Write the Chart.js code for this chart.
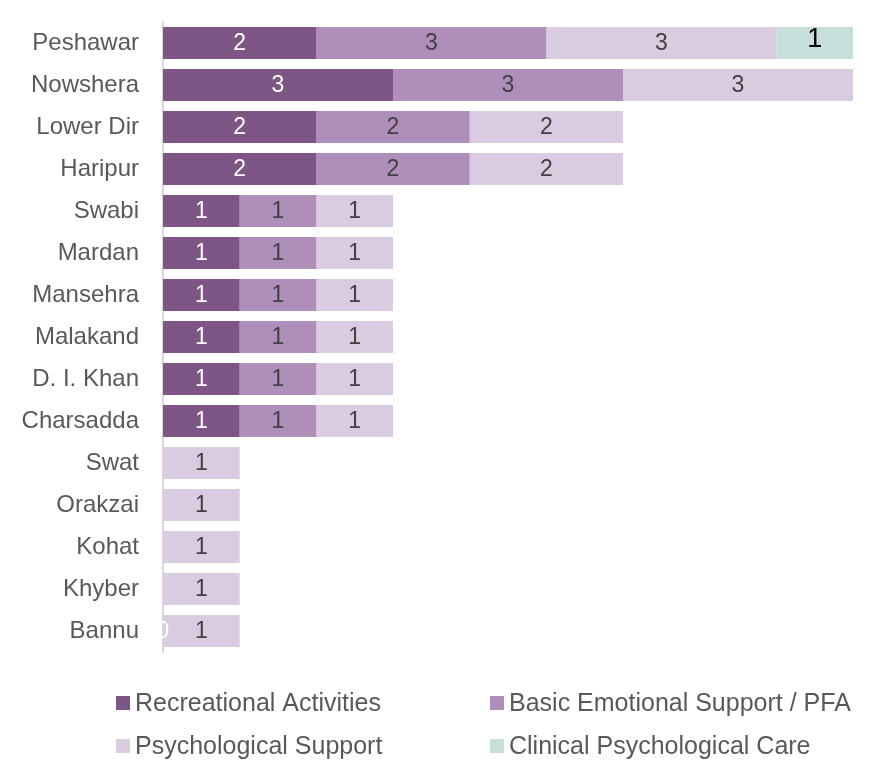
<!DOCTYPE html>
<html>
<head>
<meta charset="utf-8">
<script src="https://cdn.jsdelivr.net/npm/chart.js@4.4.1/dist/chart.umd.min.js"></script>
<style>
    html, body { margin: 0; padding: 0; background: #ffffff; }
    #wrap { position: relative; width: 874px; height: 766px; }
</style>
</head>
<body>
<div id="wrap"><canvas id="chart" width="874" height="766"></canvas></div>
<script>
        const districts = ['Peshawar', 'Nowshera', 'Lower Dir', 'Haripur', 'Swabi', 'Mardan', 'Mansehra',
            'Malakand', 'D. I. Khan', 'Charsadda', 'Swat', 'Orakzai', 'Kohat', 'Khyber', 'Bannu'];

        const recreational = [2, 3, 2, 2, 1, 1, 1, 1, 1, 1, null, null, null, null, 0];
        const basicSupport = [3, 3, 2, 2, 1, 1, 1, 1, 1, 1, null, null, null, null, null];
        const psychSupport = [3, 3, 2, 2, 1, 1, 1, 1, 1, 1, 1, 1, 1, 1, 1];
        const clinicalCare = [1, null, null, null, null, null, null, null, null, null, null, null, null, null, null];

        const seriesNames = ['Recreational Activities', 'Basic Emotional Support / PFA',
            'Psychological Support', 'Clinical Psychological Care'];

        const FONT = '"Liberation Sans", Arial, Helvetica, sans-serif';

        // Value labels in the middle of each bar segment
        const barLabels = {
            id: 'barLabels',
            afterDatasetsDraw(chart) {
                const ctx = chart.ctx;
                ctx.save();
                ctx.textAlign = 'center';
                ctx.textBaseline = 'middle';
                chart.data.datasets.forEach((ds, i) => {
                    const meta = chart.getDatasetMeta(i);
                    meta.data.forEach((bar, j) => {
                        const v = ds.data[j];
                        if (v === null || v === undefined) return;
                        const { x, base, y } = bar.getProps(['x', 'base', 'y'], true);
                        ctx.fillStyle = ds.labelColor;
                        ctx.font = ds.labelFont;
                        ctx.fillText(String(v), (x + base) / 2, y + ds.labelShift);
                    });
                });
                ctx.restore();
            }
        };

        // Two-column legend under the plot
        const gridLegend = {
            id: 'gridLegend',
            afterDraw(chart) {
                const ctx = chart.ctx;
                const cols = [116, 490];
                const rows = [703, 746];
                ctx.save();
                ctx.font = '25px ' + FONT;
                ctx.textBaseline = 'middle';
                ctx.textAlign = 'left';
                chart.data.datasets.forEach((ds, i) => {
                    const cx = cols[i % 2];
                    const cy = rows[Math.floor(i / 2)];
                    ctx.fillStyle = ds.backgroundColor;
                    ctx.fillRect(cx, cy - 7, 14, 14);
                    ctx.fillStyle = '#595959';
                    ctx.fillText(ds.label, cx + 19, cy + 1);
                });
                ctx.restore();
            }
        };

        const ctx = document.getElementById('chart').getContext('2d');
        new Chart(ctx, {
            type: 'bar',
            data: {
                labels: districts,
                datasets: [{
                    label: seriesNames[0],
                    data: recreational,
                    backgroundColor: '#7D5686',
                    labelColor: '#ffffff',
                    labelFont: '23px ' + FONT,
                    labelShift: 1
                }, {
                    label: seriesNames[1],
                    data: basicSupport,
                    backgroundColor: '#B08EBA',
                    labelColor: '#404040',
                    labelFont: '23px ' + FONT,
                    labelShift: 1
                }, {
                    label: seriesNames[2],
                    data: psychSupport,
                    backgroundColor: '#D9CCE0',
                    labelColor: '#404040',
                    labelFont: '23px ' + FONT,
                    labelShift: 1
                }, {
                    label: seriesNames[3],
                    data: clinicalCare,
                    backgroundColor: '#C6DFDB',
                    labelColor: '#000000',
                    labelFont: '27px ' + FONT,
                    labelShift: -3
                }]
            },
            options: {
                indexAxis: 'y',
                responsive: false,
                animation: false,
                events: [],
                layout: { padding: { top: 22, right: 21, bottom: 114, left: 0 } },
                datasets: {
                    bar: { barPercentage: 0.76, categoryPercentage: 1.0, borderWidth: 0 }
                },
                scales: {
                    x: {
                        stacked: true,
                        min: 0,
                        max: 9,
                        display: false
                    },
                    y: {
                        stacked: true,
                        grid: { display: false, drawTicks: false },
                        border: { display: true, color: '#D9D9D9', width: 2 },
                        afterFit(scale) {
                            scale.width = 163;
                            scale.paddingTop = 0;
                            scale.paddingBottom = 0;
                        },
                        ticks: {
                            color: '#595959',
                            padding: 24,
                            font: { family: FONT, size: 24 }
                        }
                    }
                },
                plugins: {
                    legend: { display: false },
                    tooltip: { enabled: false }
                }
            },
            plugins: [barLabels, gridLegend]
        });
</script>
</body>
</html>
